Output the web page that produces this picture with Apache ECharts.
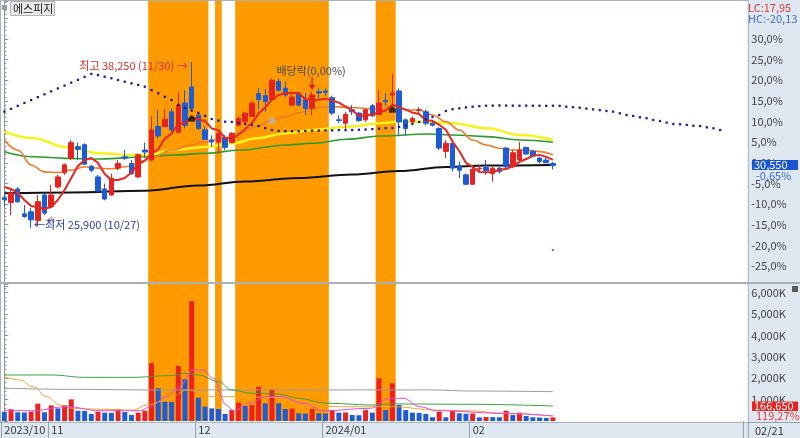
<!DOCTYPE html>
<html><head><meta charset="utf-8">
<script src="https://cdn.jsdelivr.net/npm/echarts@6/dist/echarts.min.js"></script>
<style>html,body{margin:0;padding:0;background:#fff}#c{width:800px;height:438px}</style>
</head><body><div id="c"></div>
<script>
const stockName = '에스피지';
const dates = [
'2023-10-23','2023-10-24','2023-10-25','2023-10-26','2023-10-27','2023-10-30','2023-10-31',
'2023-11-01','2023-11-02','2023-11-03','2023-11-06','2023-11-07','2023-11-08','2023-11-09','2023-11-10','2023-11-13','2023-11-14','2023-11-15','2023-11-16','2023-11-17','2023-11-20','2023-11-21','2023-11-22','2023-11-23','2023-11-24','2023-11-27','2023-11-28','2023-11-29','2023-11-30',
'2023-12-01','2023-12-04','2023-12-05','2023-12-06','2023-12-07','2023-12-08','2023-12-11','2023-12-12','2023-12-13','2023-12-14','2023-12-15','2023-12-18','2023-12-19','2023-12-20','2023-12-21','2023-12-22','2023-12-26','2023-12-27','2023-12-28',
'2024-01-02','2024-01-03','2024-01-04','2024-01-05','2024-01-08','2024-01-09','2024-01-10','2024-01-11','2024-01-12','2024-01-15','2024-01-16','2024-01-17','2024-01-18','2024-01-19','2024-01-22','2024-01-23','2024-01-24','2024-01-25','2024-01-26','2024-01-29','2024-01-30','2024-01-31',
'2024-02-01','2024-02-02','2024-02-05','2024-02-06','2024-02-07','2024-02-08','2024-02-13','2024-02-14','2024-02-15','2024-02-16','2024-02-19','2024-02-20','2024-02-21'];
const futureSlots = 28;

const opens  = [28150,27800,28800,26950,27100,26450,28350,27500,28950,30000,31100,31950,32100,30500,29700,28800,28350,30350,31200,30700,29700,31700,30950,33450,33450,34550,33000,35200,36400,34300,33200,32450,32300,32650,32250,33550,33800,34200,35900,35750,35450,36800,36300,35050,35950,35450,34800,36050,36100,35600,33950,33700,34700,34450,33950,35000,34350,35400,35800,36100,33950,33800,34650,34550,33700,33300,31600,32200,30500,29850,29150,30300,30400,29950,30350,31850,30450,30950,31900,31600,31100,30950,30700];
const closes = [28000,28500,27850,26750,26500,27850,27000,28350,29700,30600,32250,31750,30650,30200,28650,28050,29600,30700,31100,29950,31350,31550,33200,32750,34000,33200,35050,33550,34800,33300,32500,32300,32950,31900,32950,34050,34450,35200,35450,35300,36900,36150,35800,35650,35050,34800,35800,35950,36000,34450,33900,34350,34550,33900,34700,34250,35200,35300,35950,33800,33300,34050,34700,33700,33550,31850,32200,30350,30200,29150,30250,30350,30150,30350,30100,30450,31500,31700,31400,31250,30850,30750,30550];
const highs  = [28500,28850,28950,27600,27400,28350,28500,29100,29850,30700,32450,32250,32200,30600,29850,29200,29950,30950,31700,30950,31450,32250,34200,34700,34800,34800,36050,36150,38250,34550,33450,32800,33050,32800,33050,34200,34550,35300,36300,36250,37050,37050,36800,35950,36050,35950,36050,36300,36300,35750,34300,34550,35050,34550,34800,35150,36150,35950,37400,36300,34050,34200,34900,34700,33800,33400,32450,32300,30850,29950,30350,30600,30950,30450,30450,31900,31700,32300,31950,31700,31200,31200,30800];
const lows   = [27450,26850,27750,26650,25900,26050,26850,27400,28850,29850,30950,30950,30600,30050,28550,27950,28300,30200,30950,29850,29600,31100,30850,32550,33400,33050,32950,33300,34700,33200,32450,31950,31450,31700,32200,33500,33750,34150,34700,34550,35400,36050,35650,34950,34950,34300,34300,35550,35750,34300,33700,33200,34300,33800,33800,34150,34300,34950,34950,32800,32800,33700,34450,33550,33450,31700,31100,30100,29600,29100,29100,30100,29850,29350,29950,30350,30350,30850,31350,31200,30700,30700,30250];
const volumes = [430000,550000,410000,400000,435000,810000,410000,730000,590000,735000,1010000,480000,470000,330000,435000,390000,380000,550000,420000,280000,390000,480000,2700000,1530000,900000,890000,2570000,1950000,5600000,1090000,670000,590000,560000,330000,510000,855000,700000,750000,1600000,830000,1480000,830000,560000,580000,360000,350000,560000,360000,350000,510000,390000,400000,280000,270000,510000,390000,1995000,510000,1760000,750000,510000,390000,380000,330000,175000,435000,175000,510000,360000,340000,350000,165000,185000,180000,175000,480000,280000,390000,235000,175000,160000,139730,166650];

// 5-day average line (read per day)
const ma5 = [28950,28800,28500,27980,27530,27460,27310,27460,27980,28720,29620,30510,30960,31110,30740,29910,29470,29470,29620,30020,30690,30930,31430,31760,32560,32930,33630,33710,34120,33990,33850,33310,33180,32600,32520,32840,33260,33710,34420,34890,35450,35800,35930,35970,35930,35500,35430,35450,35530,35400,35230,34940,34660,34240,34290,34350,34510,34650,35070,34900,34710,34490,34390,33920,33880,33580,33210,32330,31630,30750,30440,30070,30040,30060,30240,30280,30510,30820,31030,31270,31340,31190,30960];
// longer averages, read as [slot, price]
const ma20Pts = [[0,32450],[2,31700],[4,30590],[6,30070],[8,30030],[10,30210],[12,30450],[14,30350],[16,30300],[18,30450],[20,30660],[22,31110],[25,31700],[28,32080],[30,32320],[33,32600],[35,32950],[38,33490],[40,33940],[42,34190],[44,34460],[46,34810],[49,34930],[52,34870],[55,34760],[58,34760],[61,34680],[62,34680],[64,34310],[66,33810],[68,33190],[70,32450],[72,32080],[74,31830],[76,31700],[78,31700],[80,31580],[82,31330]];
const ma60Pts = [[0,33070],[4.3,32580],[9.3,31910],[14.3,31460],[19.2,31330],[21.3,31330],[25.2,31700],[30.3,31950],[34.2,32200],[37.7,32580],[42.2,32950],[46.1,33190],[51.2,33440],[56.2,33690],[58.7,33810],[62.1,33810],[67.1,33690],[72.1,33320],[77.1,32820],[82,32450]];
const ma120Pts = [[0,31580],[4.3,31200],[9.3,31080],[14.3,31030],[21.3,31200],[25.2,31330],[30.3,31460],[35.2,31700],[42.2,32080],[46.1,32200],[51.2,32500],[56.2,32750],[63.6,32900],[67.1,32820],[72.1,32700],[77.1,32450],[82,32280]];
const ma240Pts = [[0,28480],[10,28540],[21,28670],[29,29060],[36,29360],[44,29620],[52,29880],[59,30140],[66,30440],[72,30550],[82,30590]];
// leading dotted line (one value per slot, runs 25 slots past the last day)
const leadDots = [34560,34770,34990,35210,35420,35640,35850,36070,36290,36500,36720,36930,37150,37370,37290,37160,37050,36920,36790,36670,36550,36420,36170,35930,35670,35430,35060,34830,34630,34460,34240,34010,33890,33810,33790,33720,33640,33570,33490,33340,33190,33120,33100,33100,33100,33120,33150,33150,33170,33170,33190,33180,33190,33210,33230,33260,33290,33330,33340,33420,33530,33640,33790,33980,34160,34310,34610,34740,34810,34870,34930,34970,35000,35010,35020,35010,35010,35000,35010,35000,35000,34990,35000,34990,34930,34890,34850,34790,34730,34670,34610,34560,34440,34310,34240,34140,34070,33940,33860,33740,33640,33620,33570,33510,33490,33390,33320,33190];
// volume averages, [slot, shares]
const volMaGreen = [[0,2150000],[7,2150000],[12,2040000],[19,2040000],[25,2120000],[27,2230000],[29,2150000],[32,1840000],[34,1450000],[37,1290000],[41,1260000],[44,1060000],[48,830000],[55,750000],[58,800000],[62,790000],[70,780000],[82,700000]];
const volMaGray = [[0,1530000],[10,1480000],[22,1450000],[42,1450000],[64,1450000],[70,1400000],[82,1370000]];
const volMaOrange = [[0,2070000],[2.3,1920000],[4.3,1600000],[6.3,1140000],[8.3,750000],[10.3,590000],[14.3,550000],[19.3,510000],[21.3,750000],[24.3,980000],[27.3,1450000],[29.3,1370000],[30.3,1140000],[33.2,1140000],[41.2,1110000],[44.7,750000],[49.7,670000],[55,670000],[58,670000],[64.6,510000],[69.6,480000],[74.6,360000],[82,234000]];
const volMaMagenta = [[0,510000],[4.3,480000],[9.3,670000],[14.3,480000],[20.3,480000],[21.8,670000],[24.3,1140000],[26.2,1600000],[28.2,2380000],[29.7,2380000],[31.2,2000000],[33.2,750000],[34.2,480000],[36.7,830000],[39.2,1140000],[41.2,1140000],[44.7,830000],[47.7,480000],[54.6,590000],[57.6,1060000],[59.6,1060000],[62.1,670000],[64.6,480000],[74.6,360000],[82,234000]];
// highlighted periods (first day, last day)
const bandRanges = [['2023-11-22','2023-12-04'],['2023-12-06','2023-12-06'],['2023-12-11','2024-01-02'],['2024-01-12','2024-01-16']];
// signal markers [slot, price]
const blackMarks = [[28,34070],[58,34740]];
const grayMarks = [[7,26540],[40,33940]];
const redDots = [[82,24250]];
const exDivDate = '2023-12-27';
const exDivText = '배당락(0,00%)';
const cursorDate = '02/21';

// ---------- build ----------
const N = dates.length + futureSlots;
const cats = dates.concat(Array.from({length: futureSlots}, (_, i) => 'F' + (i + 1)));
const SLOT = 6.69, LEFT = 1, W = N * SLOT;
const AXIS_X = 748.3;
const RED = '#e8231f', BLUE = '#1c5cd6', ORANGE_BAND = '#ff9a00';
const FONT = 'Noto Sans CJK KR';
const last = closes.length - 1;
const base = closes[last - 1];
const comma = s => s.replace('.', ',');

function isMonthStart(i) {
  if (i >= dates.length) return false;
  return i === 0 || dates[i].slice(0, 7) !== dates[i - 1].slice(0, 7);
}
function monthLabel(i) {
  const d = dates[i];
  if (i === 0 || d.slice(0, 4) !== dates[i - 1].slice(0, 4)) return d.slice(0, 4) + '/' + d.slice(5, 7);
  return d.slice(5, 7);
}
// bands on the value axes, covering whole day slots
const bandData = bandRanges.map(r => [{xAxis: dates.indexOf(r[0]) - 0.5}, {xAxis: dates.indexOf(r[1]) + 0.5}]);
const bandMark = () => ({silent: true, z: 1, itemStyle: {color: ORANGE_BAND, opacity: 1, borderWidth: 0}, label: {show: false}, data: bandData});

const chart = echarts.init(document.getElementById('c'), null, {renderer: 'canvas'});

const yLabelStyle = {margin: 3, fontSize: 11, color: '#444', fontFamily: FONT};
const option = {
  animation: false,
  textStyle: {fontFamily: FONT},
  grid: [
    {left: LEFT, top: 1, width: W, height: 285.6},
    {left: LEFT, top: 284, width: W, height: 137}
  ],
  xAxis: [
    {type: 'category', gridIndex: 0, data: cats, boundaryGap: true, show: false},
    {type: 'value', gridIndex: 0, min: -0.5, max: N - 0.5, show: false},
    {type: 'category', gridIndex: 1, data: cats, boundaryGap: true,
      axisLine: {show: false},
      axisTick: {show: true, interval: (i) => isMonthStart(i), length: 17, lineStyle: {color: '#97a1ac'}},
      axisLabel: {interval: (i) => isMonthStart(i), formatter: (v, i) => monthLabel(i), align: 'left', margin: 3, fontSize: 11, color: '#3a3a3a', fontFamily: FONT},
      splitLine: {show: false}},
    {type: 'value', gridIndex: 1, min: -0.5, max: N - 0.5, show: false}
  ],
  yAxis: [
    {type: 'value', gridIndex: 0, position: 'right', offset: AXIS_X - (LEFT + W),
      min: base * 0.7, max: base * 1.392, interval: base * 0.05,
      splitLine: {show: false},
      axisLine: {show: true, lineStyle: {color: '#8d97a2'}},
      axisTick: {show: true, length: 4, lineStyle: {color: '#8d97a2'}},
      minorTick: {show: true, splitNumber: 5, length: 2, lineStyle: {color: '#8d97a2'}},
      axisLabel: Object.assign({showMinLabel: false, showMaxLabel: false,
        formatter: v => {
          const p = Math.round((v / base - 1) * 1000) / 10;
          return p > 31 ? '' : comma(p.toFixed(1)) + '%';
        }}, yLabelStyle)},
    {type: 'value', gridIndex: 1, position: 'right', offset: AXIS_X - (LEFT + W),
      min: 0, max: 6400000, interval: 1000000,
      splitLine: {show: false},
      axisLine: {show: true, lineStyle: {color: '#8d97a2'}},
      axisTick: {show: true, length: 4, lineStyle: {color: '#8d97a2'}},
      minorTick: {show: true, splitNumber: 5, length: 2, lineStyle: {color: '#8d97a2'}},
      axisLabel: Object.assign({showMinLabel: false, showMaxLabel: false,
        formatter: v => (v / 1000).toLocaleString('en-US') + 'K'}, yLabelStyle)}
  ],
  series: [
    {type: 'candlestick', name: 'price', xAxisIndex: 0, yAxisIndex: 0, barWidth: 5, z: 3,
      data: opens.map((o, i) => [o, closes[i], lows[i], highs[i]]),
      itemStyle: {color: RED, color0: BLUE, borderColor: RED, borderColor0: BLUE, borderWidth: 1}},
    {type: 'line', name: 'lead', xAxisIndex: 0, yAxisIndex: 0, data: leadDots, z: 5,
      symbol: 'rect', symbolSize: 2.3, showSymbol: true, showAllSymbol: true,
      lineStyle: {width: 0, opacity: 0}, itemStyle: {color: '#1e1e8c'}},
    {type: 'line', name: 'ma240', xAxisIndex: 1, yAxisIndex: 0, data: ma240Pts, symbol: 'none', smooth: 0.4, smoothMonotone: 'x', z: 2,
      lineStyle: {color: '#111', width: 2}, markArea: bandMark()},
    {type: 'line', name: 'ma120', xAxisIndex: 1, yAxisIndex: 0, data: ma120Pts, symbol: 'none', smooth: 0.4, smoothMonotone: 'x', z: 2,
      lineStyle: {color: '#2c9a2c', width: 1.6}},
    {type: 'line', name: 'ma60', xAxisIndex: 1, yAxisIndex: 0, data: ma60Pts, symbol: 'none', smooth: 0.4, smoothMonotone: 'x', z: 2,
      lineStyle: {color: '#f4f41c', width: 2.5}},
    {type: 'line', name: 'ma20', xAxisIndex: 1, yAxisIndex: 0, data: ma20Pts, symbol: 'none', smooth: 0.4, smoothMonotone: 'x', z: 2,
      lineStyle: {color: '#f07a28', width: 1.6}},
    {type: 'line', name: 'ma5', xAxisIndex: 0, yAxisIndex: 0, data: ma5, symbol: 'none', z: 4,
      lineStyle: {color: '#e8261e', width: 2}},
    {type: 'scatter', name: 'sigB', xAxisIndex: 1, yAxisIndex: 0, data: blackMarks, z: 6,
      symbol: 'path://M4,0 L8,4 L8,8 L0,8 L0,4 Z', symbolSize: 7, itemStyle: {color: '#111'}},
    {type: 'scatter', name: 'sigG', xAxisIndex: 1, yAxisIndex: 0, data: grayMarks, z: 6,
      symbol: 'path://M4,0 L8,4 L8,8 L0,8 L0,4 Z', symbolSize: 7, itemStyle: {color: '#b8b8b8'}},
    {type: 'scatter', name: 'dotR', xAxisIndex: 1, yAxisIndex: 0, data: redDots, z: 6,
      symbol: 'rect', symbolSize: 2, itemStyle: {color: '#e02020'}},
    {type: 'bar', name: 'vol', xAxisIndex: 2, yAxisIndex: 1, barWidth: 5, z: 3,
      data: volumes.map((v, i) => ({value: v, itemStyle: {color: (i > 0 && v > volumes[i - 1]) ? '#ee2020' : BLUE}}))},
    {type: 'line', xAxisIndex: 3, yAxisIndex: 1, data: volMaGray, symbol: 'none', smooth: 0.4, smoothMonotone: 'x', z: 4, lineStyle: {color: '#9a9a9a', width: 1},
      markArea: bandMark()},
    {type: 'line', xAxisIndex: 3, yAxisIndex: 1, data: volMaGreen, symbol: 'none', smooth: 0.4, smoothMonotone: 'x', z: 4, lineStyle: {color: '#3f9f3f', width: 1}},
    {type: 'line', xAxisIndex: 3, yAxisIndex: 1, data: volMaOrange, symbol: 'none', smooth: 0.4, smoothMonotone: 'x', z: 4, lineStyle: {color: '#f0a63a', width: 1}},
    {type: 'line', xAxisIndex: 3, yAxisIndex: 1, data: volMaMagenta, symbol: 'none', smooth: 0.4, smoothMonotone: 'x', z: 4, lineStyle: {color: '#e048d8', width: 1}}
  ]
};
chart.setOption(option);

// ---------- overlays positioned through the chart's own scales ----------
const P = (x, y) => chart.convertToPixel({xAxisIndex: 1, yAxisIndex: 0}, [x, y]);
const fmt = n => n.toLocaleString('en-US');
const mmdd = d => d.slice(5, 7) + '/' + d.slice(8, 10);

let hiIdx = 0, loIdx = 0;
highs.forEach((h, i) => { if (h > highs[hiIdx]) hiIdx = i; });
lows.forEach((l, i) => { if (l < lows[loIdx]) loIdx = i; });
const hiPx = P(hiIdx, highs[hiIdx]);
const loPx = P(loIdx, lows[loIdx]);
const exIdx = dates.indexOf(exDivDate);
const exPx = P(exIdx, highs[exIdx]);
const lastPx = P(last, closes[last]);
const lc = (closes[last] / lows[loIdx] - 1) * 100;
const hc = (closes[last] / highs[hiIdx] - 1) * 100;
const chg = (closes[last] / base - 1) * 100;
const volPct = volumes[last] / volumes[last - 1] * 100;
const txt = (x, y, text, color, extra) => Object.assign({type: 'text', x, y, silent: true, z: 20,
  style: Object.assign({text, fill: color, font: '11px "' + FONT + '"', textVerticalAlign: 'middle', verticalAlign: 'middle'}, extra || {})});

const G = [
  {type: 'rect', shape: {x: AXIS_X, y: 0, width: 800 - AXIS_X, height: 438}, style: {fill: '#dfe7f1'}, z: -10, silent: true},
  {type: 'rect', shape: {x: 0, y: 422.5, width: 800, height: 16}, style: {fill: '#dfe7f1'}, z: -10, silent: true},
  {type: 'line', shape: {x1: 0, y1: 422.5, x2: 800, y2: 422.5}, style: {stroke: '#98a2ad', lineWidth: 1}, z: 15, silent: true},
  {type: 'line', shape: {x1: 0, y1: 283, x2: 800, y2: 283}, style: {stroke: '#a8b0b9', lineWidth: 2}, z: 15, silent: true},
  {type: 'rect', shape: {x: 0.5, y: 0.5, width: AXIS_X - 0.5, height: 422}, style: {fill: null, stroke: '#a8b0b9', lineWidth: 1}, z: 15, silent: true},
  {type: 'line', shape: {x1: AXIS_X, y1: 422.5, x2: AXIS_X, y2: 438}, style: {stroke: '#98a2ad', lineWidth: 1}, z: 15, silent: true},
  // title box
  {type: 'rect', shape: {x: 2, y: 5, width: 5, height: 5}, style: {fill: '#9a9a9a'}, z: 20, silent: true},
  {type: 'rect', shape: {x: 10.5, y: 1.5, width: 44, height: 14}, style: {fill: '#e8e8e8', stroke: '#b4b4b4'}, z: 20, silent: true},
  txt(13, 9, stockName, '#222'),
  // LC / HC
  txt(748, 8, 'LC:' + comma(lc.toFixed(2)), '#e03a3a'),
  txt(748, 19, 'HC:' + comma(hc.toFixed(2)), '#3a72c8'),
  // last price box
  {type: 'rect', shape: {x: 752, y: lastPx[1] - 5.5, width: 46, height: 10}, style: {fill: '#1a55d4'}, z: 19, silent: true},
  txt(754, lastPx[1] - 0.5, fmt(closes[last]), '#fff'),
  txt(756, lastPx[1] + 10, comma(chg.toFixed(2)) + '%', '#3a6ed0'),
  // last volume box
  {type: 'rect', shape: {x: 752, y: 401.5, width: 46, height: 9.5}, style: {fill: '#e8231f'}, z: 19, silent: true},
  txt(754, 406.3, fmt(volumes[last]), '#fff'),
  txt(756, 416, comma(volPct.toFixed(2)) + '%', '#e03a3a'),
  {type: 'rect', shape: {x: 792, y: 286, width: 6, height: 6}, style: {fill: '#5a5a5a'}, z: 20, silent: true},
  // date under right axis
  txt(755, 431, cursorDate, '#333'),
  // high annotation
  txt(hiPx[0] - 4, hiPx[1] + 3.5, '최고 ' + fmt(highs[hiIdx]) + ' (' + mmdd(dates[hiIdx]) + ') →', '#e02a2a', {textAlign: 'right', align: 'right'}),
  // low annotation
  txt(loPx[0] + 3, loPx[1] - 3.5, '←최저 ' + fmt(lows[loIdx]) + ' (' + mmdd(dates[loIdx]) + ')', '#2a3aa8', {textAlign: 'left', align: 'left'}),
  // ex-dividend
  txt(exPx[0] - 1, exPx[1] - 21, exDivText, '#4a4a4a', {textAlign: 'center', align: 'center'}),
  {type: 'line', shape: {x1: exPx[0], y1: exPx[1] - 15, x2: exPx[0], y2: exPx[1] - 6}, style: {stroke: '#e02020', lineWidth: 1.3}, z: 20, silent: true},
  {type: 'polygon', shape: {points: [[exPx[0] - 3.5, exPx[1] - 7], [exPx[0] + 3.5, exPx[1] - 7], [exPx[0], exPx[1] - 2]]}, style: {fill: '#e02020'}, z: 20, silent: true}
];
chart.setOption({graphic: G});
</script>
</body></html>
